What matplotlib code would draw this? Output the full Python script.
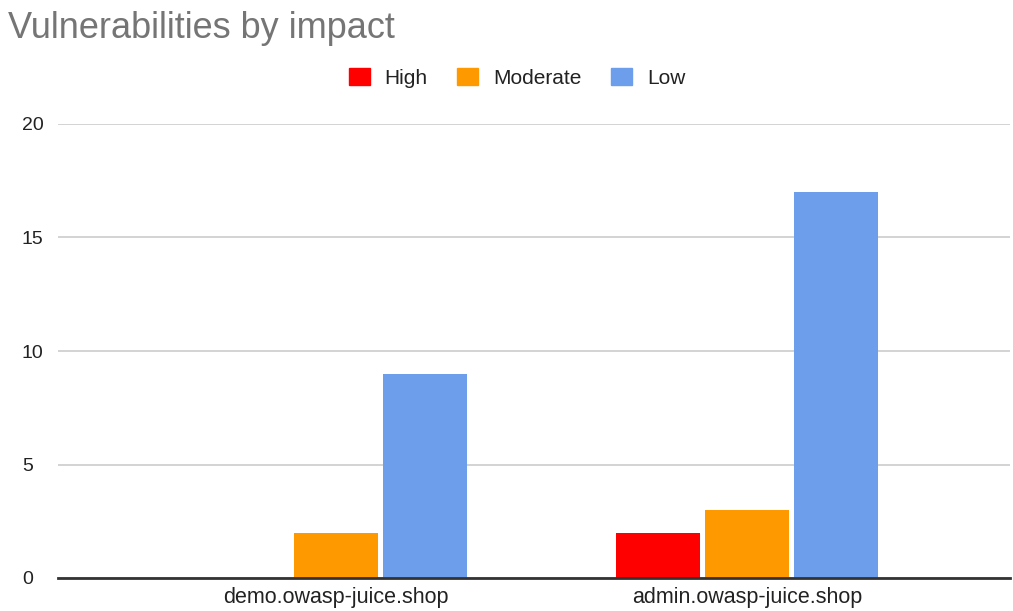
import numpy as np
import matplotlib
matplotlib.use("Agg")
import matplotlib.pyplot as plt
import matplotlib.patches as patches

plt.rcParams['font.family'] = ['Liberation Sans', 'DejaVu Sans']

hosts = ['demo.owasp-juice.shop', 'admin.owasp-juice.shop']
series = ['High', 'Moderate', 'Low']
high = [0, 2]
moderate = [2, 3]
low = [9, 17]
colors = ['#ff0000', '#ff9900', '#6d9eeb']

fig = plt.figure(figsize=(10.13, 6.11), dpi=100)
ax = fig.add_axes([58 / 1013, 1 - 578 / 611, 952 / 1013, 454 / 611])

x = np.arange(len(hosts))
w = 0.204
off = 0.2165
for i, (vals, c) in enumerate(zip([high, moderate, low], colors)):
    ax.bar(x + (i - 1) * off, vals, width=w, color=c, zorder=3)

ax.set_xlim(-0.676, 1.640)
ax.set_ylim(0, 20)
ax.set_yticks([0, 5, 10, 15, 20])
ax.grid(axis='y', color='#cccccc', linewidth=1.2, zorder=0)
for s in ['top', 'right', 'left']:
    ax.spines[s].set_visible(False)
ax.spines['bottom'].set_color('#333333')
ax.spines['bottom'].set_linewidth(2)
ax.spines['bottom'].set_zorder(4)
ax.tick_params(axis='y', length=0, labelsize=14, colors='#222222', pad=26)
ax.tick_params(axis='x', length=0, labelsize=15.5, colors='#222222', pad=6.5)
ax.set_xticks(x)
ax.set_xticklabels(hosts)
for lab in ax.get_yticklabels():
    lab.set_horizontalalignment('left')

fig.text(8 / 1013, 1 - 28 / 611, 'Vulnerabilities by impact', fontsize=26,
         color='#757575', va='center', ha='left')

handles = [patches.Patch(color=c) for c in colors]
fig.legend(handles, series, loc='center', bbox_to_anchor=(517 / 1013, 1 - 78 / 611),
           ncol=3, frameon=False, fontsize=15, handlelength=1.0, handleheight=0.85,
           columnspacing=1.45, handletextpad=0.7, labelcolor='#222222')

fig.savefig('out.png', dpi=100)
